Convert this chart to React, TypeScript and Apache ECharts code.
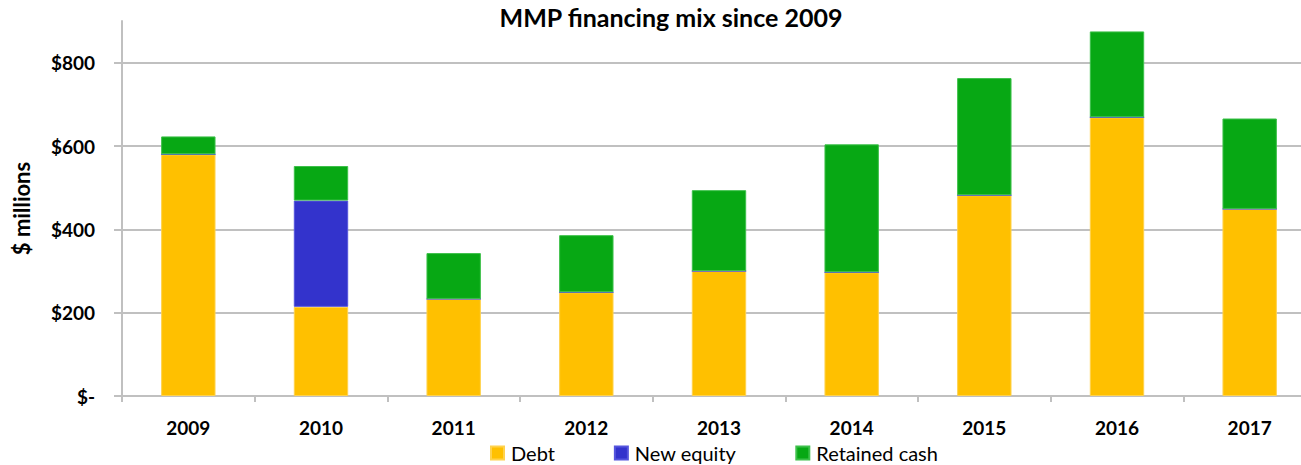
import React, { useEffect, useRef } from "react";
import * as echarts from "echarts";

const years = ["2009", "2010", "2011", "2012", "2013", "2014", "2015", "2016", "2017"];
const debt = [580, 214, 233, 249, 300, 297, 482, 669, 449];
const newEquity = [0, 255, 0, 0, 0, 0, 0, 0, 0];
const retainedCash = [43, 83, 110, 137, 194, 307, 281, 206, 217];
const yTicks = [0, 200, 400, 600, 800];

const FONT = "Lato, 'Open Sans', sans-serif";

export default function App() {
  const ref = useRef<HTMLDivElement>(null);
  useEffect(() => {
    if (!ref.current) return;
    const chart = echarts.init(ref.current, undefined, { renderer: "svg" });
    const grey = "#c0c0c0";
    chart.setOption({
      animation: false,
      backgroundColor: "#ffffff",
      title: {
        text: "MMP financing mix since 2009",
        left: 671,
        textAlign: "center",
        top: 4,
        padding: 0,
        textStyle: { fontFamily: FONT, fontSize: 25, fontWeight: "bold", color: "#000" },
      },
      legend: {
        left: 490,
        top: 443,
        padding: 0,
        itemWidth: 13,
        itemHeight: 13,
        itemGap: 59,
        icon: "rect",
        textStyle: { fontFamily: FONT, fontSize: 20, color: "#000", padding: [0, 0, 0, 2] },
        data: ["Debt", "New equity", "Retained cash"],
      },
      grid: { left: 122, right: 0, top: 21, bottom: 69, containLabel: false },
      xAxis: {
        type: "category",
        data: years,
        axisLine: { lineStyle: { color: grey, width: 2 } },
        axisTick: { show: true, length: 6, lineStyle: { color: grey, width: 2 } },
        axisLabel: { fontFamily: FONT, fontSize: 19, fontWeight: "bold", color: "#000", margin: 22 },
      },
      yAxis: {
        type: "value",
        min: 0,
        max: 900,
        interval: 200,
        name: "$ millions",
        nameLocation: "middle",
        nameGap: 90,
        nameTextStyle: { fontFamily: FONT, fontSize: 22, fontWeight: "bold", color: "#000" },
        axisLine: { show: true, lineStyle: { color: grey, width: 2 } },
        axisTick: { show: true, length: 8, lineStyle: { color: grey, width: 2 } },
        axisLabel: {
          showMaxLabel: false,
          margin: 27,
          fontFamily: FONT,
          fontSize: 19,
          fontWeight: "bold",
          color: "#000",
          formatter: (v: number) => (yTicks.includes(v) ? (v === 0 ? "$-" : "$" + v) : ""),
        },
        splitLine: {
          show: true,
          lineStyle: { color: [grey, grey, grey, grey, grey, "rgba(0,0,0,0)"], width: 2 },
        },
      },
      series: [
        {
          name: "Debt",
          type: "bar",
          stack: "total",
          barWidth: "41%",
          data: debt,
          itemStyle: { color: "#FFC000", borderColor: "#FFD24D", borderWidth: 1 },
        },
        {
          name: "New equity",
          type: "bar",
          stack: "total",
          data: newEquity,
          itemStyle: { color: "#3333CC", borderColor: "#5555DD", borderWidth: 1 },
        },
        {
          name: "Retained cash",
          type: "bar",
          stack: "total",
          data: retainedCash,
          itemStyle: { color: "#07A814", borderColor: "#3DC04A", borderWidth: 1 },
        },
      ],
    });
    return () => chart.dispose();
  }, []);
  return (
    <div style={{ position: "fixed", left: 0, top: 0, width: 1301, height: 465, overflow: "hidden" }}>
      <div ref={ref} style={{ position: "absolute", left: 0, top: 0, width: 1316, height: 465 }} />
    </div>
  );
}
